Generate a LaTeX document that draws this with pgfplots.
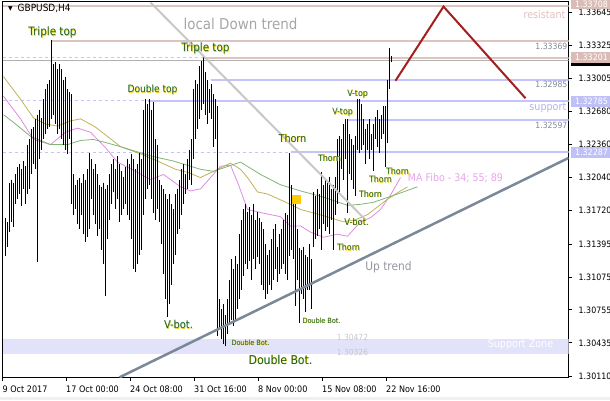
\documentclass[border=0pt]{standalone}
\usepackage{pgfplots}
\pgfplotsset{compat=1.18}
\usepackage{pgfplotstable}
\usepackage{fontspec}
\setmainfont{DejaVu Sans Condensed}
\newfontfamily\dvs{DejaVu Sans}
\definecolor{rosy}{RGB}{222,196,190}
\definecolor{rosybox}{RGB}{218,188,182}
\definecolor{rostxt}{RGB}{228,190,190}
\definecolor{bline}{RGB}{196,196,250}
\definecolor{bbox}{RGB}{192,192,248}
\definecolor{suptxt}{RGB}{178,178,240}
\definecolor{zone}{RGB}{226,226,250}
\definecolor{ma34}{RGB}{222,140,222}
\definecolor{ma55}{RGB}{190,178,90}
\definecolor{ma89}{RGB}{130,180,120}
\definecolor{matxt}{RGB}{232,165,232}
\definecolor{upt}{RGB}{122,136,152}
\definecolor{dnt}{RGB}{200,200,200}
\definecolor{gtxt}{RGB}{165,165,165}
\definecolor{uptxt}{RGB}{150,150,165}
\definecolor{zig}{RGB}{165,30,30}
\definecolor{labgrn}{RGB}{25,100,35}
\definecolor{labyel}{RGB}{235,205,0}
\definecolor{numgrey}{RGB}{130,138,150}
\definecolor{lgrey}{RGB}{200,200,205}
\definecolor{ysq}{RGB}{255,204,0}
\newcommand{\fs}[1]{\fontsize{#1}{#1}\selectfont}
\newcommand{\glab}[4]{%
 \node[text=labyel, font=\fs{#3}, inner sep=0pt, xshift=0.5bp, yshift=-0.5bp] at (axis cs:#1,#2) {#4};%
 \node[text=labgrn, font=\fs{#3}, inner sep=0pt] at (axis cs:#1,#2) {#4};}

\pgfplotstableread{
x h l
5 1.3165 1.3128
7 1.3161 1.3137
9 1.3199 1.3151
11 1.3202 1.3161
13 1.3199 1.3156
15 1.3207 1.3178
17 1.3214 1.3183
19 1.3217 1.3188
21 1.3212 1.3176
23 1.3220 1.3193
25 1.3215 1.3178
27 1.3236 1.3188
29 1.3241 1.3193
31 1.3251 1.3207
33 1.3253 1.3217
35 1.3261 1.3212
37 1.3265 1.3122
39 1.3270 1.3222
41 1.3262 1.3231
43 1.3280 1.3241
45 1.3290 1.3246
47 1.3295 1.3251
49 1.3299 1.3253
51 1.3338 1.3261
53 1.3314 1.3265
55 1.3316 1.3256
57 1.3309 1.3246
59 1.3314 1.3251
61 1.3309 1.3241
63 1.3299 1.3236
65 1.3302 1.3231
67 1.3290 1.3227
69 1.3287 1.3241
71 1.3285 1.3178
73 1.3207 1.3168
75 1.3197 1.3173
77 1.3202 1.3159
79 1.3204 1.3154
81 1.3199 1.3168
83 1.3207 1.3149
85 1.3202 1.3141
87 1.3212 1.3146
89 1.3228 1.3154
91 1.3222 1.3183
93 1.3212 1.3168
95 1.3217 1.3159
97 1.3207 1.3147
99 1.3197 1.3154
101 1.3195 1.3134
103 1.3199 1.3120
105 1.3193 1.3089
107 1.3197 1.3144
109 1.3207 1.3163
111 1.3217 1.3178
113 1.3222 1.3190
115 1.3212 1.3173
117 1.3225 1.3183
119 1.3217 1.3161
121 1.3210 1.3168
123 1.3205 1.3173
125 1.3214 1.3178
127 1.3222 1.3168
129 1.3217 1.3163
131 1.3227 1.3144
133 1.3222 1.3115
135 1.3212 1.3112
137 1.3217 1.3120
139 1.3228 1.3129
141 1.3222 1.3134
143 1.3270 1.3168
145 1.3280 1.3183
147 1.3275 1.3193
149 1.3280 1.3197
151 1.3270 1.3183
153 1.3277 1.3170
155 1.3241 1.3163
157 1.3236 1.3173
159 1.3202 1.3161
161 1.3197 1.3139
163 1.3193 1.3110
165 1.3188 1.3086
167 1.3183 1.3069
169 1.3188 1.3081
171 1.3178 1.3100
173 1.3173 1.3120
175 1.3188 1.3129
177 1.3193 1.3149
179 1.3202 1.3154
181 1.3212 1.3168
183 1.3217 1.3178
185 1.3207 1.3188
187 1.3222 1.3193
189 1.3231 1.3202
191 1.3241 1.3197
193 1.3290 1.3222
195 1.3299 1.3241
197 1.3295 1.3251
199 1.3312 1.3261
201 1.3317 1.3270
203 1.3321 1.3275
205 1.3306 1.3265
207 1.3299 1.3256
209 1.3290 1.3267
211 1.3295 1.3261
213 1.3285 1.3234
215 1.3280 1.3241
217 1.3273 1.3050
219 1.3086 1.3057
221 1.3076 1.3047
223 1.3081 1.3042
225 1.3071 1.3040
227 1.3086 1.3052
229 1.3105 1.3061
231 1.3125 1.3066
233 1.3115 1.3060
235 1.3128 1.3066
237 1.3120 1.3076
239 1.3149 1.3086
241 1.3163 1.3095
243 1.3173 1.3108
245 1.3178 1.3120
247 1.3171 1.3115
249 1.3175 1.3123
251 1.3168 1.3105
253 1.3178 1.3125
255 1.3163 1.3115
257 1.3171 1.3127
259 1.3165 1.3120
261 1.3161 1.3100
263 1.3154 1.3095
265 1.3139 1.3086
267 1.3129 1.3091
269 1.3134 1.3100
271 1.3144 1.3095
273 1.3154 1.3105
275 1.3159 1.3115
277 1.3137 1.3103
279 1.3149 1.3110
281 1.3154 1.3115
283 1.3163 1.3120
285 1.3170 1.3110
287 1.3168 1.3105
289 1.3228 1.3128
291 1.3197 1.3134
293 1.3178 1.3125
295 1.3186 1.3079
297 1.3154 1.3105
299 1.3136 1.3063
301 1.3134 1.3091
303 1.3137 1.3086
305 1.3129 1.3073
307 1.3127 1.3095
309 1.3139 1.3095
311 1.3125 1.3076
313 1.3190 1.3137
315 1.3186 1.3144
317 1.3193 1.3147
319 1.3188 1.3154
321 1.3209 1.3134
323 1.3197 1.3159
325 1.3202 1.3152
327 1.3199 1.3156
329 1.3205 1.3149
331 1.3193 1.3163
333 1.3197 1.3134
335 1.3205 1.3168
337 1.3241 1.3178
339 1.3244 1.3188
341 1.3241 1.3212
343 1.3256 1.3202
345 1.3261 1.3222
347 1.3261 1.3170
349 1.3246 1.3207
351 1.3241 1.3202
353 1.3236 1.3193
355 1.3244 1.3186
357 1.3280 1.3231
359 1.3280 1.3228
361 1.3275 1.3231
363 1.3261 1.3236
365 1.3251 1.3217
367 1.3256 1.3231
369 1.3261 1.3222
371 1.3246 1.3231
373 1.3256 1.3210
375 1.3263 1.3241
377 1.3270 1.3234
379 1.3261 1.3228
381 1.3265 1.3241
383 1.3273 1.3246
385 1.3273 1.3214
387 1.3299 1.3238
389 1.3330 1.3290
391 1.3322 1.3316
}\bars

\begin{document}
\begin{tikzpicture}[x=1bp,y=1bp]
\path[use as bounding box] (0,0) rectangle (610,400);
\fill[black!6] (0,0) rectangle (610,3.5);
\begin{axis}[
  at={(2.5,22)}, anchor=south west,
  scale only axis, width=566bp, height=375.5bp,
  xmin=2, xmax=568, ymin=1.30100, ymax=1.33746,
  axis line style={line width=0.8bp},
  ytick pos=right, yticklabel pos=right, xtick pos=bottom,
  tick align=outside, major tick length=3.5bp,
  tick style={black, line width=0.8bp},
  ytick={1.30110,1.30435,1.30755,1.31075,1.31395,1.31720,1.32040,1.32360,1.32680,1.33005,1.33325,1.33645},
  yticklabels={1.30110,1.30435,1.30755,1.31075,1.31395,1.31720,1.32040,1.32360,1.32680,1.33005,1.33325,1.33645},
  xtick={2,65.5,129.5,193.5,257.5,321.5,385.5},
  xticklabels={9 Oct 2017,17 Oct 00:00,24 Oct 08:00,31 Oct 16:00,8 Nov 00:00,15 Nov 08:00,22 Nov 16:00},
  yticklabel style={anchor=west, inner sep=0pt, font=\fs{8.8}},
  xticklabel style={anchor=north west, inner sep=0pt, font=\fs{9}},
  yticklabel shift=6.5bp, xticklabel shift=5bp,
  scaled y ticks=false,
]
% support zone
\addplot[fill=zone, draw=none] coordinates {(2,1.30326) (568,1.30326) (568,1.30472) (2,1.30472)} -- cycle;
% horizontal levels
\addplot[rosy, line width=2bp] coordinates {(2,1.33708) (568,1.33708)};
\addplot[rosy, line width=2bp] coordinates {(50,1.33369) (568,1.33369)};
\addplot[rosy, line width=1bp, dash pattern=on 3bp off 3bp] coordinates {(2,1.33201) (203,1.33201)};
\addplot[rosy, line width=2bp] coordinates {(203,1.33201) (568,1.33201)};
\addplot[black!30, line width=0.8bp] coordinates {(2,1.33178) (568,1.33178)};
\addplot[bline, line width=2bp] coordinates {(210,1.32985) (568,1.32985)};
\addplot[bline, line width=1bp, dash pattern=on 3bp off 3bp] coordinates {(2,1.32785) (147,1.32785)};
\addplot[bline, line width=2bp] coordinates {(147,1.32785) (568,1.32785)};
\addplot[bline, line width=2bp] coordinates {(347,1.32597) (568,1.32597)};
\addplot[bline, line width=1bp, dash pattern=on 3bp off 3bp] coordinates {(2,1.32287) (290,1.32287)};
\addplot[bline, line width=2bp] coordinates {(290,1.32287) (568,1.32287)};
% moving averages
\addplot[ma34, line width=0.8bp] coordinates {(3,1.3283) (20,1.3261) (33,1.3241) (50,1.3236) (65,1.3248) (77,1.3252) (90,1.3248) (105,1.3233) (117,1.3219) (135,1.3210) (150,1.3202) (163,1.3207) (180,1.3195) (190,1.3191) (200,1.3193) (210,1.3204) (220,1.3215) (230,1.3216) (238,1.3197) (247,1.3173) (260,1.3170) (280,1.3166) (290,1.3157) (300,1.3157) (310,1.3151) (323,1.3146) (337,1.3149) (347,1.3147) (360,1.3161) (370,1.3165) (380,1.3173) (390,1.3187) (400,1.3204)};
\addplot[ma55, line width=0.8bp] coordinates {(3,1.3302) (20,1.3280) (33,1.3262) (45,1.3256) (57,1.3254) (70,1.3259) (80,1.3261) (95,1.3253) (120,1.3234) (140,1.3227) (157,1.3220) (175,1.3212) (187,1.3209) (200,1.3204) (213,1.3210) (230,1.3218) (240,1.3212) (247,1.3204) (257,1.3190) (267,1.3188) (290,1.3178) (300,1.3173) (323,1.3167) (343,1.3161) (355,1.3163) (367,1.3168) (387,1.3183) (400,1.3191) (407,1.3195)};
\addplot[ma89, line width=0.8bp] coordinates {(3,1.3265) (15,1.3256) (30,1.3244) (50,1.3236) (67,1.3236) (80,1.3240) (93,1.3241) (105,1.3238) (120,1.3234) (150,1.3225) (173,1.3220) (200,1.3212) (213,1.3210) (225,1.3214) (240,1.3219) (260,1.3207) (280,1.3197) (300,1.3191) (323,1.3185) (347,1.3177) (360,1.3178) (373,1.3180) (397,1.3188) (417,1.3195)};
% price bars (high-low)
\addplot[draw=none, no markers, error bars/.cd, y dir=minus, y explicit, error mark=none,
  error bar style={draw=black, solid, line width=1bp}]
  table[x=x, y=h, y error minus expr=\thisrow{h}-\thisrow{l}] {\bars};
% trend lines
\addplot[dnt, line width=2bp] coordinates {(150,1.3374) (365,1.3163)};
\addplot[upt, line width=2.5bp] coordinates {(119,1.3010) (568,1.3223)};
\addplot[zig, line width=2bp] coordinates {(395,1.3298) (443,1.3370) (525,1.3281)};
\addplot[only marks, mark=square*, mark options={fill=ysq, draw=ysq}, mark size=4bp] coordinates {(296,1.3183)};
% labels
\node[font=\dvs\fs{6}, inner sep=0pt] at (axis cs:10,1.3368) {▼};
\node[font=\fs{10}, anchor=west, inner sep=0pt] at (axis cs:17,1.3368) {GBPUSD,H4};
\node[text=gtxt, font=\fs{15}, inner sep=0pt] at (axis cs:240,1.3353) {local Down trend};
\node[text=uptxt, font=\fs{11.9}, inner sep=0pt] at (axis cs:388,1.3117) {Up trend};
\node[text=matxt, font=\fs{10.6}, inner sep=0pt] at (axis cs:455,1.3203) {MA Fibo - 34; 55; 89};
\node[text=rostxt, font=\fs{10.7}, anchor=east, inner sep=0pt] at (axis cs:565,1.3362) {resistant};
\node[text=numgrey, font=\fs{8.6}, anchor=east, inner sep=0pt] at (axis cs:567,1.3331) {1.33369};
\node[text=numgrey, font=\fs{8.6}, anchor=east, inner sep=0pt] at (axis cs:567,1.3294) {1.32985};
\node[text=suptxt, font=\fs{10.7}, anchor=east, inner sep=0pt] at (axis cs:566,1.3272) {support};
\node[text=numgrey, font=\fs{8.6}, anchor=east, inner sep=0pt] at (axis cs:567,1.3255) {1.32597};
\node[text=lgrey, font=\fs{8.4}, inner sep=0pt] at (axis cs:352,1.3049) {1.30472};
\node[text=lgrey, font=\fs{8.4}, inner sep=0pt] at (axis cs:352,1.3034) {1.30326};
\node[text=white, font=\fs{10.7}, inner sep=0pt] at (axis cs:520,1.3042) {Support Zone};
\glab{52}{1.3345}{11.6}{Triple top}
\glab{205}{1.3329}{11.6}{Triple top}
\glab{152}{1.3289}{10.1}{Double top}
\glab{292}{1.3242}{10.7}{Thorn}
\glab{357}{1.3285}{8.7}{V-top}
\glab{342}{1.3267}{8.7}{V-top}
\glab{329}{1.3223}{8.8}{Thorn}
\glab{397}{1.3210}{8.8}{Thorn}
\glab{380}{1.3202}{8.8}{Thorn}
\glab{370}{1.3188}{8.8}{Thorn}
\glab{348}{1.3136}{8.8}{Thorn}
\glab{356}{1.3161}{9.2}{V-bot.}
\glab{178}{1.3061}{11}{V-bot.}
\glab{321}{1.3065}{7.2}{Double Bot.}
\glab{250}{1.3044}{7.2}{Double Bot.}
\glab{280}{1.3027}{12.1}{Double Bot.}
\end{axis}
% price tags on the right scale
\fill[rosybox] (570.5,390.5) rectangle (610,400);
\node[anchor=west, text=white, font=\fs{8.8}, inner sep=0pt] at (575,395.2) {1.33708};
\fill[rosybox] (570.5,337) rectangle (610,348);
\node[anchor=west, text=white, font=\fs{8.8}, inner sep=0pt] at (575,342.5) {1.33201};
\fill[black] (570.5,334.5) rectangle (610,337);
\fill[bbox] (570.5,293.5) rectangle (610,304.5);
\node[anchor=west, text=white, font=\fs{8.8}, inner sep=0pt] at (575,299) {1.32785};
\fill[bbox] (570.5,242.5) rectangle (610,253.5);
\node[anchor=west, text=white, font=\fs{8.8}, inner sep=0pt] at (575,248) {1.32287};
\end{tikzpicture}
\end{document}
